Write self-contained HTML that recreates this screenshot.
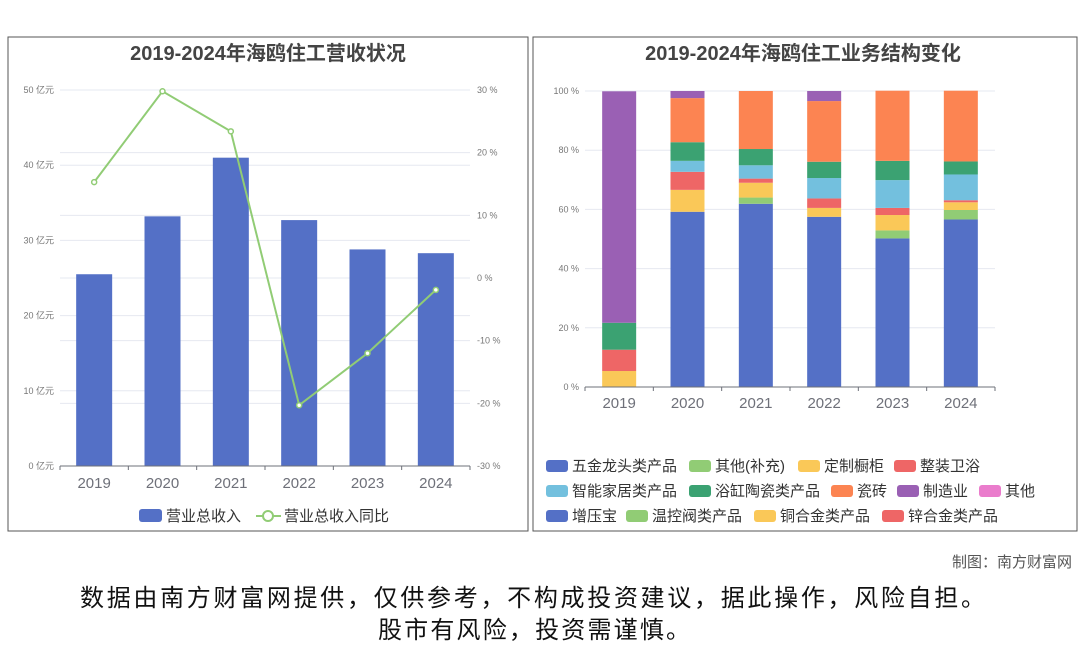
<!DOCTYPE html>
<html><head><meta charset="utf-8"><style>
body{margin:0;background:#fff;width:1080px;height:646px;overflow:hidden;font-family:"Liberation Sans","Noto Sans CJK SC",sans-serif}
svg text{font-family:"Liberation Sans","Noto Sans CJK SC",sans-serif}
</style></head><body>
<svg id="s" width="1080" height="646" xmlns="http://www.w3.org/2000/svg">
<rect x="8" y="37" width="520" height="494" fill="#fff" stroke="#555"/>
<rect x="533" y="37" width="544" height="494" fill="#fff" stroke="#555"/>
<text x="268" y="60" text-anchor="middle" font-size="20" font-weight="bold" fill="#444">2019-2024年海鸥住工营收状况</text>
<text x="803" y="60" text-anchor="middle" font-size="20" font-weight="bold" fill="#444">2019-2024年海鸥住工业务结构变化</text>
<g id="L"></g>
<g id="R"></g>
<text x="1072" y="567" text-anchor="end" font-size="15" fill="#555">制图：南方财富网</text>
<text x="80" y="606" font-size="24" fill="#111" textLength="905" lengthAdjust="spacing">数据由南方财富网提供，仅供参考，不构成投资建议，据此操作，风险自担。</text>
<text x="378" y="638" font-size="24" fill="#111" textLength="312" lengthAdjust="spacing">股市有风险，投资需谨慎。</text>
</svg>
<script>
const years=["2019","2020","2021","2022","2023","2024"];
const revenue=[25.5,33.2,41.0,32.7,28.8,28.3];
const growth=[15.3,29.8,23.4,-20.3,-12.0,-1.9];
const revTicks=[0,10,20,30,40,50];
const pctTicks=[-30,-20,-10,0,10,20,30];
const seriesNames=["五金龙头类产品","其他(补充)","定制橱柜","整装卫浴","智能家居类产品","浴缸陶瓷类产品","瓷砖","制造业","其他","增压宝","温控阀类产品","铜合金类产品","锌合金类产品"];
const sBlue=[0,59.2,61.9,57.5,50.2,56.6];
const sLightGreen=[0,0,2.1,0,2.7,3.2];
const sYellow=[5.4,7.4,5.0,3.0,5.2,2.6];
const sRed=[7.2,6.1,1.4,3.2,2.4,0.7];
const sLightBlue=[0,3.7,4.5,6.9,9.4,8.7];
const sGreen=[9.1,6.3,5.5,5.5,6.5,4.4];
const sOrange=[0,14.9,19.6,20.5,23.7,23.9];
const sPurple=[78.2,2.4,0,3.4,0,0];
const structTicks=[0,20,40,60,80,100];

const NS="http://www.w3.org/2000/svg";
function mk(p,t,a,txt){const e=document.createElementNS(NS,t);for(const k in a)e.setAttribute(k,a[k]);if(txt!==undefined)e.textContent=txt;p.appendChild(e);return e;}
const L=document.getElementById('L'),R=document.getElementById('R');
const lx0=60,lx1=470,ly0=466,ly1=90;
const yRev=v=>ly0-(v/50)*(ly0-ly1);
const yPct=v=>ly0-((v+30)/60)*(ly0-ly1);
const bw=(lx1-lx0)/years.length;
const xL=i=>lx0+bw*(i+0.5);
revTicks.forEach(t=>{
 const g=mk(L,'line',{x1:lx0,x2:lx1,y1:yRev(t),y2:yRev(t),stroke:'#e6e8f0'});
 
 const l=mk(L,'text',{x:54,y:yRev(t)+3,'text-anchor':'end','font-size':9,fill:'#777'},t+' 亿元');
 
});
pctTicks.forEach(t=>{
 const g=mk(L,'line',{x1:lx0,x2:lx1,y1:yPct(t),y2:yPct(t),stroke:'#e6e8f0'});
 
 const l=mk(L,'text',{x:477,y:yPct(t)+3,'font-size':9,fill:'#777'},t+' %');
 
});
revenue.forEach((v,i)=>{
 const r=mk(L,'rect',{x:xL(i)-18,y:yRev(v),width:36,height:ly0-yRev(v),fill:'#5470c6'});
 
});
const ax=mk(L,'line',{x1:lx0,x2:lx1,y1:ly0,y2:ly0,stroke:'#6e7079'});

years.forEach((y,i)=>{
 mk(L,'line',{x1:lx0+bw*i,x2:lx0+bw*i,y1:ly0,y2:ly0+4,stroke:'#6e7079'});
 const t=mk(L,'text',{x:xL(i),y:488,'text-anchor':'middle','font-size':15,fill:'#6e7079'},y);
 
});
mk(L,'line',{x1:lx1,x2:lx1,y1:ly0,y2:ly0+4,stroke:'#6e7079'});
const pl=mk(L,'polyline',{points:growth.map((v,i)=>xL(i)+','+yPct(v)).join(' '),fill:'none',stroke:'#91cc75','stroke-width':2});

growth.forEach((v,i)=>{
 const c=mk(L,'circle',{cx:xL(i),cy:yPct(v),r:2.5,fill:'#fff',stroke:'#91cc75','stroke-width':1.5});
 
});
let lg=mk(L,'rect',{x:139,y:509,width:23,height:13,rx:3,fill:'#5470c6'});

lg=mk(L,'text',{x:166,y:521,'font-size':15,fill:'#333'},'营业总收入');

mk(L,'line',{x1:256,x2:281,y1:516,y2:516,stroke:'#91cc75','stroke-width':2});
lg=mk(L,'circle',{cx:268,cy:516,r:5,fill:'#fff',stroke:'#91cc75','stroke-width':2});

lg=mk(L,'text',{x:284,y:521,'font-size':15,fill:'#333'},'营业总收入同比');


const rx0=585,rx1=995,ry0=387,ry1=91;
const yS=v=>ry0-(v/100)*(ry0-ry1);
const rb=(rx1-rx0)/years.length;
const xR=i=>rx0+rb*(i+0.5);
structTicks.forEach(t=>{
 const g=mk(R,'line',{x1:rx0,x2:rx1,y1:yS(t),y2:yS(t),stroke:'#e6e8f0'});
 
 const l=mk(R,'text',{x:579,y:yS(t)+3,'text-anchor':'end','font-size':9,fill:'#777'},t+' %');
 
});
const stack=[[sBlue,'#5470c6'],[sLightGreen,'#91cc75'],[sYellow,'#fac858'],[sRed,'#ee6666'],[sLightBlue,'#73c0de'],[sGreen,'#3ba272'],[sOrange,'#fc8452'],[sPurple,'#9a60b4']];
years.forEach((y,i)=>{
 let acc=0;
 stack.forEach(([arr,col],k)=>{
  const v=arr[i]; if(!v)return;
  const r=mk(R,'rect',{x:xR(i)-17,y:yS(acc+v),width:34,height:yS(acc)-yS(acc+v),fill:col});
  
  acc+=v;
 });
});
const ax2=mk(R,'line',{x1:rx0,x2:rx1,y1:ry0,y2:ry0,stroke:'#6e7079'});

years.forEach((y,i)=>{
 mk(R,'line',{x1:rx0+rb*i,x2:rx0+rb*i,y1:ry0,y2:ry0+4,stroke:'#6e7079'});
 const t=mk(R,'text',{x:xR(i),y:408,'text-anchor':'middle','font-size':15,fill:'#6e7079'},y);
 
});
mk(R,'line',{x1:rx1,x2:rx1,y1:ry0,y2:ry0+4,stroke:'#6e7079'});
const legCols=['#5470c6','#91cc75','#fac858','#ee6666','#73c0de','#3ba272','#fc8452','#9a60b4','#ea7ccc','#5470c6','#91cc75','#fac858','#ee6666'];
const legPos=[[546,466],[689,466],[798,466],[894,466],[546,491],[689,491],[831,491],[897,491],[979,491],[546,516],[626,516],[754,516],[882,516]];
seriesNames.forEach((n,i)=>{
 const [x,y]=legPos[i];
 const s=mk(R,'rect',{x:x,y:y-6,width:22,height:12,rx:3,fill:legCols[i]});
 
 const t=mk(R,'text',{x:x+26,y:y+5,'font-size':15,fill:'#333'},n);
 
});
</script>
</body></html>
